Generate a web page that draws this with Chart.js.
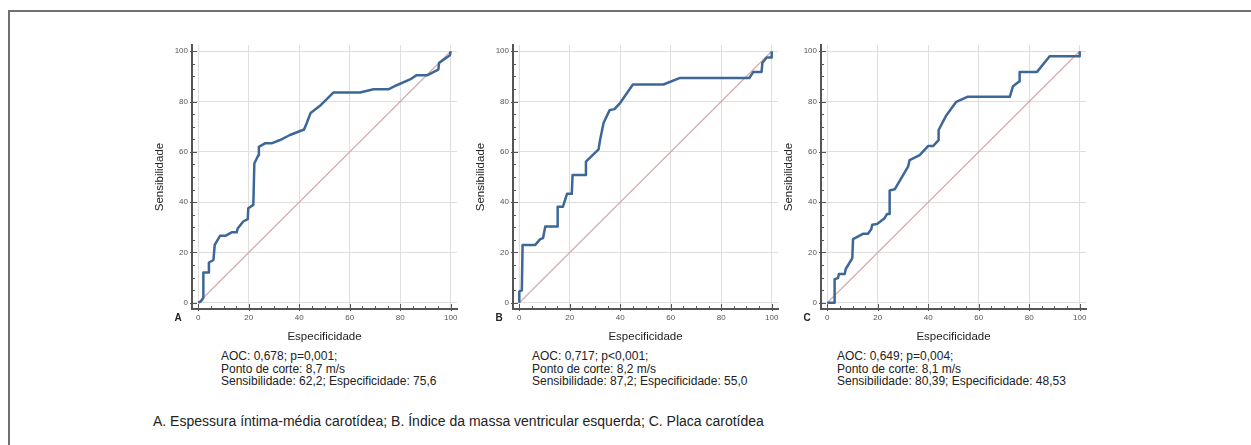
<!DOCTYPE html>
<html>
<head>
<meta charset="utf-8">
<script src="https://cdn.jsdelivr.net/npm/chart.js@4.4.1/dist/chart.umd.min.js"></script>
<style>
  body { margin: 0; width: 1251px; height: 445px; overflow: hidden; background: #fff; position: relative;
         font-family: "Liberation Sans", Arial, sans-serif; color: #222; }
  .frame { position: absolute; left: 8px; top: 10px; width: 1270px; height: 470px; border: 2px solid #707070; box-sizing: border-box; }
  .panel { position: absolute; top: 0; }
  .stats { position: absolute; top: 350px; font-size: 12px; line-height: 12.5px; white-space: nowrap; }
  .caption { position: absolute; left: 153px; top: 413px; font-size: 14px; line-height: 17px; white-space: nowrap; }
</style>
</head>
<body>
<div class="frame"></div>
<canvas id="chartA" class="panel" width="330" height="344" style="left:142px"></canvas>
<canvas id="chartB" class="panel" width="330" height="344" style="left:463px"></canvas>
<canvas id="chartC" class="panel" width="330" height="344" style="left:771px"></canvas>
<div class="stats" style="left:221px">AOC: 0,678; p=0,001;<br>Ponto de corte: 8,7 m/s<br>Sensibilidade: 62,2; Especificidade: 75,6</div>
<div class="stats" style="left:532px">AOC: 0,717; p&lt;0,001;<br>Ponto de corte: 8,2 m/s<br>Sensibilidade: 87,2; Especificidade: 55,0</div>
<div class="stats" style="left:837px">AOC: 0,649; p=0,004;<br>Ponto de corte: 8,1 m/s<br>Sensibilidade: 80,39; Especificidade: 48,53</div>
<div class="caption">A. Espessura íntima-média carotídea; B. Índice da massa ventricular esquerda; C. Placa carotídea</div>

<script>
// ROC curves: 100-especificidade (x) vs sensibilidade (y)
const specA = [0,1,2,2,4.2,4.2,6,6.5,8.6,10.7,13.2,15.2,15.6,17.8,19.6,19.8,21.8,22.2,23.8,24,26.4,29,32.4,36.3,41.9,42.9,44.5,48.2,53.5,64.1,69.4,75.3,78.6,83.9,86.5,90.8,95.1,95.4,99.7,100];
const sensA = [0,0.5,2,12,12,16,17,23,26.6,26.6,28,28,29.5,32.3,33.2,37.6,38.9,55.4,58.7,62,63.4,63.4,64.7,66.7,68.9,71.3,75.5,78.3,83.6,83.6,84.9,84.9,86.5,88.8,90.5,90.5,92.7,95.4,98.4,100];

const specB = [0,0,1,1.3,6.3,8.3,9.4,10.3,15.2,15.2,17.3,18.9,20.8,21.1,26.1,26.4,31.4,32,33.4,35.8,37.7,40,45,57.1,63.7,91.2,92.7,96,96.3,98,100,100];
const sensB = [0,4.5,4.9,23,23,25.3,25.7,30.3,30.3,38.2,38.2,43.3,43.3,50.8,50.8,56.1,61,64.7,71.6,76.6,77,79.5,86.8,86.8,89.4,89.4,91.8,91.8,95.4,97.5,97.5,100];

const specC = [0,2.9,2.9,4.2,4.6,6.9,7.3,9.9,10.2,14.1,16.1,17.4,17.8,19.7,22.7,23.7,24.7,24.7,26.7,32,32.6,36.6,39.9,41.9,44.1,44.1,47.2,51.1,55.5,72.3,73.6,76,76.2,83.1,88.1,100,100];
const sensC = [0,0,9.4,9.8,11.4,11.4,13.4,17.7,25.3,27.4,27.4,29.2,31,31.3,33.6,35.3,35.3,44.6,45.1,54.1,56.7,58.7,62.3,62.3,64.7,68.7,74.6,79.9,81.9,81.9,86.1,88,91.8,91.8,98,98,100];

const diagX = [0, 100];
const diagY = [0, 100];
const tickValues = [0, 20, 40, 60, 80, 100];

Chart.defaults.font.family = '"Liberation Sans", Arial, sans-serif';

// small inward ticks every 5 units + panel letter
const innerTicks = {
  id: 'innerTicks',
  beforeDatasetsDraw(chart, args, opts) {
    const { ctx, chartArea: a, scales: { x, y } } = chart;
    ctx.save();
    ctx.strokeStyle = '#555';
    ctx.lineWidth = 1;
    for (let v = 0; v <= 100; v += 5) {
      const major = v % 20 === 0;
      const len = major ? 5 : 3;
      const px = Math.round(x.getPixelForValue(v)) + 0.5;
      ctx.beginPath();
      ctx.moveTo(px, a.bottom + (major ? 2 : 0));
      ctx.lineTo(px, a.bottom - len);
      ctx.stroke();
      const py = Math.round(y.getPixelForValue(v)) + 0.5;
      ctx.beginPath();
      ctx.moveTo(a.left - (major ? 2 : 0), py);
      ctx.lineTo(a.left + len, py);
      ctx.stroke();
    }
    ctx.fillStyle = '#222';
    ctx.font = 'bold 10px "Liberation Sans", Arial, sans-serif';
    ctx.textAlign = 'center';
    ctx.textBaseline = 'middle';
    ctx.fillText(opts.letter, a.left - 14, a.bottom + 9);
    ctx.restore();
  }
};

function axis(title, isY) {
  return {
    type: 'linear',
    min: -2.5,
    max: 102.5,
    afterBuildTicks: s => { s.ticks = tickValues.map(v => ({ value: v })); },
    afterFit: s => { if (isY) s.width = 50; else s.height = 35; },
    grid: { color: '#dedede', lineWidth: 1, drawTicks: false },
    border: { color: '#555', width: 2 },
    ticks: { padding: 4, color: '#555', font: { size: 8 }, maxRotation: 0 },
    title: {
      display: true, text: title, color: '#222', font: { size: 11.5 },
      padding: isY ? { top: 11, bottom: 0 } : { top: 0, bottom: 0 }
    }
  };
}

function rocChart(id, letter, spec, sens) {
  new Chart(document.getElementById(id), {
    type: 'scatter',
    data: {
      datasets: [
        {
          data: spec.map((v, i) => ({ x: v, y: sens[i] })),
          showLine: true,
          borderColor: '#3d6797',
          borderWidth: 2.5,
          borderJoinStyle: 'round',
          pointRadius: 0
        },
        {
          data: diagX.map((v, i) => ({ x: v, y: diagY[i] })),
          showLine: true,
          borderColor: '#d9aaac',
          borderWidth: 1.2,
          pointRadius: 0
        }
      ]
    },
    options: {
      responsive: false,
      animation: false,
      layout: { padding: { top: 45, right: 15, left: 0, bottom: 0 } },
      plugins: { legend: { display: false }, tooltip: { enabled: false }, innerTicks: { letter } },
      scales: { x: axis('Especificidade', false), y: axis('Sensibilidade', true) }
    },
    plugins: [innerTicks]
  });
}

rocChart('chartA', 'A', specA, sensA);
rocChart('chartB', 'B', specB, sensB);
rocChart('chartC', 'C', specC, sensC);
</script>
</body>
</html>
